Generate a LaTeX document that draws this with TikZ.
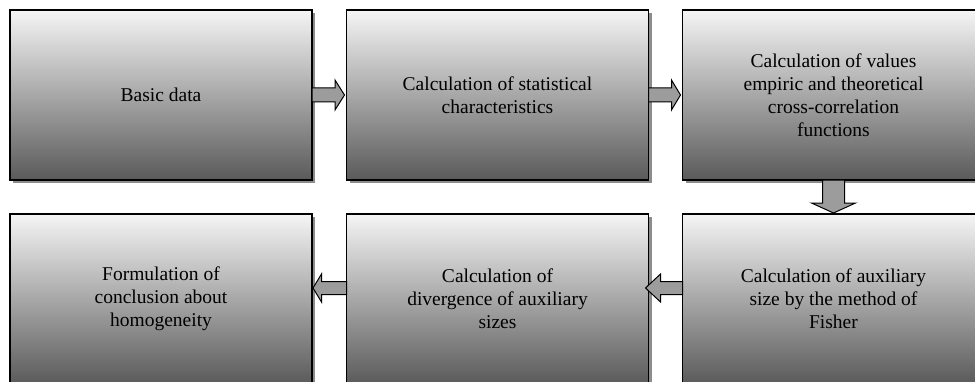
\documentclass[tikz,border=0pt]{standalone}
\usepackage{fontspec}
\setmainfont{Liberation Serif}
\usetikzlibrary{calc,shadows}
\definecolor{boxtop}{HTML}{F5F5F5}
\definecolor{boxbot}{HTML}{5A5A5A}
\definecolor{arrowfill}{HTML}{9C9C9C}
\tikzset{
  stage/.style={draw=black, line width=1.6pt, top color=boxtop, bottom color=boxbot,
    minimum width=302pt, minimum height=170pt, inner sep=0pt, outer sep=0pt,
    align=center, font=\fontsize{19.5}{23}\selectfont,
    general shadow={shadow xshift=3pt, shadow yshift=-3pt, fill=black!45}},
  blockarrow/.style={draw=black, line width=1pt, fill=arrowfill, line join=miter}
}
\begin{document}
\begin{tikzpicture}[x=1pt,y=1pt]
\useasboundingbox (0,0) rectangle (975,381);
\clip (0,0) rectangle (975,381);
\fill[white] (0,0) rectangle (975,381);
\node[stage] (b1) at (161,286) {Basic data};
\node[stage] (b2) at (497.5,286) {Calculation of statistical\\characteristics};
\node[stage] (b3) at (833.5,286) {Calculation of values\\empiric and theoretical\\cross-correlation\\functions};
\node[stage] (b4) at (161,82) {Formulation of\\conclusion about\\homogeneity};
\node[stage] (b5) at (497.5,82) {Calculation of\\divergence of auxiliary\\sizes};
\node[stage] (b6) at (833.5,82) {Calculation of auxiliary\\size by the method of\\Fisher};
% right arrows
\draw[blockarrow] ($(b1.east)+(0,7)$) -- ++(23,0) -- ++(0,8) -- ($(b2.west)+(-2,0)$)
  -- ($(b1.east)+(23,-15)$) -- ++(0,8) -- ($(b1.east)+(0,-7)$) -- cycle;
\draw[blockarrow] ($(b2.east)+(0,7)$) -- ++(23,0) -- ++(0,8) -- ($(b3.west)+(-2,0)$)
  -- ($(b2.east)+(23,-15)$) -- ++(0,8) -- ($(b2.east)+(0,-7)$) -- cycle;
% down arrow
\draw[blockarrow] ($(b3.south)+(-11,0)$) -- ++(0,-23) -- ++(-11,0) -- ($(b6.north)+(0,1)$)
  -- ($(b3.south)+(22,-23)$) -- ++(-11,0) -- ($(b3.south)+(11,0)$) -- cycle;
% left arrows
\draw[blockarrow] ($(b6.west)+(0,17.5)$) -- ++(-22,0) -- ++(0,7.5) -- ($(b5.east)+(-3,11)$)
  -- ($(b6.west)+(-22,-3)$) -- ++(0,7.5) -- ($(b6.west)+(0,4.5)$) -- cycle;
\draw[blockarrow] ($(b5.west)+(0,17.5)$) -- ++(-25,0) -- ++(0,7.5) -- ($(b4.east)+(1,11)$)
  -- ($(b5.west)+(-25,-3)$) -- ++(0,7.5) -- ($(b5.west)+(0,4.5)$) -- cycle;
\end{tikzpicture}
\end{document}
